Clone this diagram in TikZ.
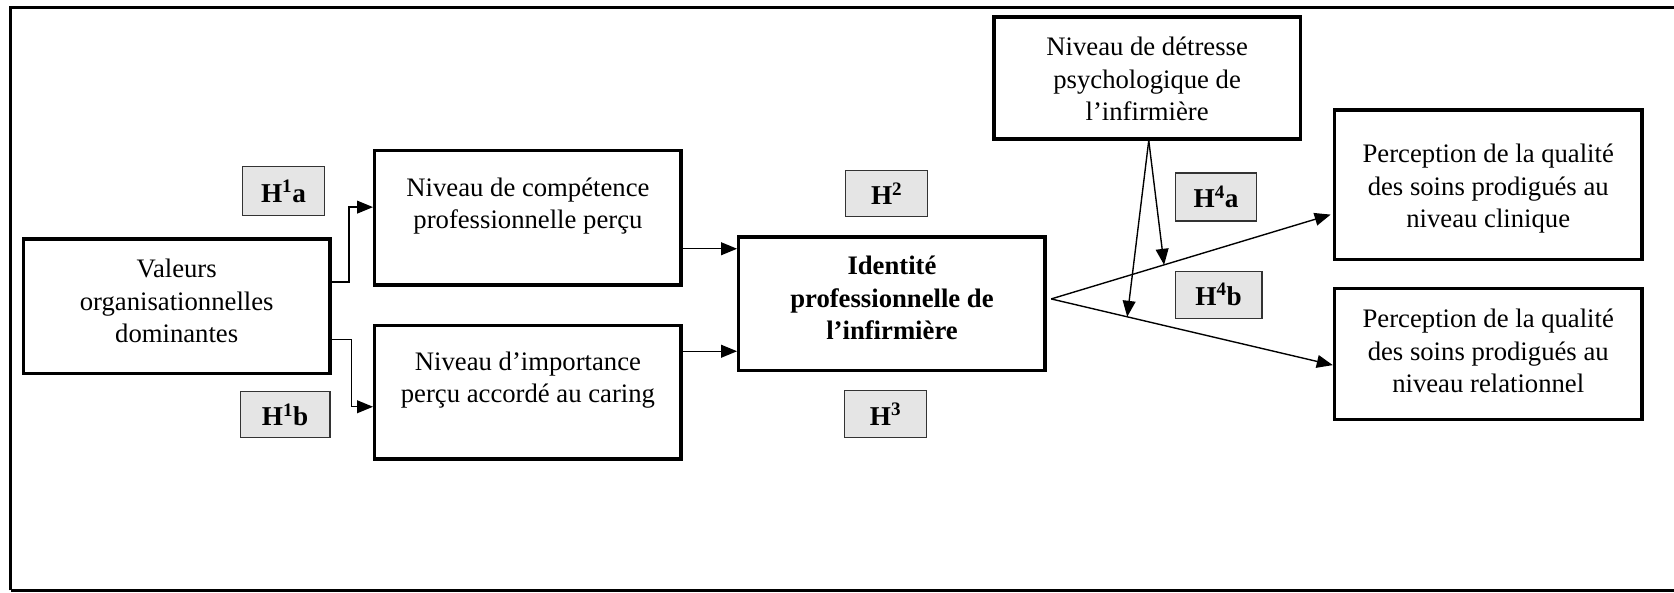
\documentclass[tikz,border=0pt]{standalone}
\usepackage{fontspec}
\setmainfont{Liberation Serif}
\usetikzlibrary{arrows.meta,calc}
\begin{document}
\begin{tikzpicture}[x=1pt,y=-1pt,
  bigbox/.style={draw=black,line width=3.2pt,rectangle,inner sep=0pt},
  hyp/.style={draw=black!80,line width=1.2pt,fill=black!10,rectangle,inner sep=0pt,
     font=\fontsize{25.5}{30.5}\selectfont\bfseries},
  txt/.style={align=center,inner sep=0pt,font=\fontsize{25}{30.5}\selectfont},
  btxt/.style={txt,font=\fontsize{25}{30.5}\selectfont\bfseries},
  arr/.style={line width=1.3pt,-{Triangle[length=15pt,width=12pt]}},
  ln/.style={line width=1.3pt}]
\useasboundingbox (0,0) rectangle (1568,555);
% outer frame
\draw[line width=3pt] (10,553) -- (10,7) -- (1580,7);
\draw[line width=3pt] (10,553) -- (1580,553);
% boxes
\node[bigbox,minimum width=287pt,minimum height=126pt] (val) at (165.5,287) {};
\node[txt] at (165.5,282) {Valeurs\\organisationnelles\\dominantes};
\node[bigbox,minimum width=287pt,minimum height=126pt] (comp) at (494.5,204) {};
\node[txt] at (494.5,193) {Niveau de compétence\\professionnelle perçu};
\node[bigbox,minimum width=287pt,minimum height=125pt] (imp) at (494.5,367.5) {};
\node[txt] at (494.5,356) {Niveau d’importance\\perçu accordé au caring};
\node[bigbox,minimum width=287pt,minimum height=125pt] (id) at (835.5,284.5) {};
\node[btxt] at (835.5,279) {Identité\\professionnelle de\\l’infirmière};
\node[bigbox,minimum width=287pt,minimum height=114pt] (det) at (1074.5,73) {};
\node[txt] at (1074.5,74) {Niveau de détresse\\psychologique de\\l’infirmière};
\node[bigbox,minimum width=288pt,minimum height=140pt] (clin) at (1394,173) {};
\node[txt] at (1394,177) {Perception de la qualité\\des soins prodigués au\\niveau clinique};
\node[bigbox,minimum width=288pt,minimum height=123pt] (rel) at (1394,331.5) {};
\node[txt] at (1394,329) {Perception de la qualité\\des soins prodigués au\\niveau relationnel};
% hypothesis labels
\node[hyp,minimum width=77pt,minimum height=46pt] (h1a) at (265.5,179) {H\textsuperscript{1}a};
\node[hyp,minimum width=84pt,minimum height=43pt] (h1b) at (267,388.5) {H\textsuperscript{1}b};
\node[hyp,minimum width=77pt,minimum height=43pt] (h2) at (830.5,181.5) {H\textsuperscript{2}};
\node[hyp,minimum width=77pt,minimum height=44pt] (h3) at (829.5,388) {H\textsuperscript{3}};
\node[hyp,minimum width=76pt,minimum height=45pt] (h4a) at (1139,184.5) {H\textsuperscript{4}a};
\node[hyp,minimum width=81pt,minimum height=44pt] (h4b) at (1141.5,276) {H\textsuperscript{4}b};
% connectors
\draw[arr] ($(val.east)+(0,-23)$) -| (327,194) -- ($(comp.west)+(0,-10)$);
\draw[arr] ($(val.east)+(0,31)$) -| (329,381) -- ($(imp.west)+(0,13.5)$);
\draw[arr] ($(comp.east)+(0,29)$) -- ($(id.west)+(0,-51.5)$);
\draw[arr] ($(imp.east)+(0,-38.5)$) -- ($(id.west)+(0,44.5)$);
\coordinate (o) at ($(id.east)+(4,-4.5)$);
\coordinate (c1) at ($(clin.west)+(-2,28)$);
\coordinate (c2) at ($(rel.west)+(0,10.5)$);
\draw[arr] (o) -- (c1);
\draw[arr] (o) -- (c2);
\path (o) -- (c1) coordinate[pos=0.404] (m1);
\path (o) -- (c2) coordinate[pos=0.27] (m2);
\draw[arr] ($(det.south)+(1.5,0)$) -- (m1);
\draw[arr] ($(det.south)+(1.5,0)$) -- (m2);
\end{tikzpicture}
\end{document}
